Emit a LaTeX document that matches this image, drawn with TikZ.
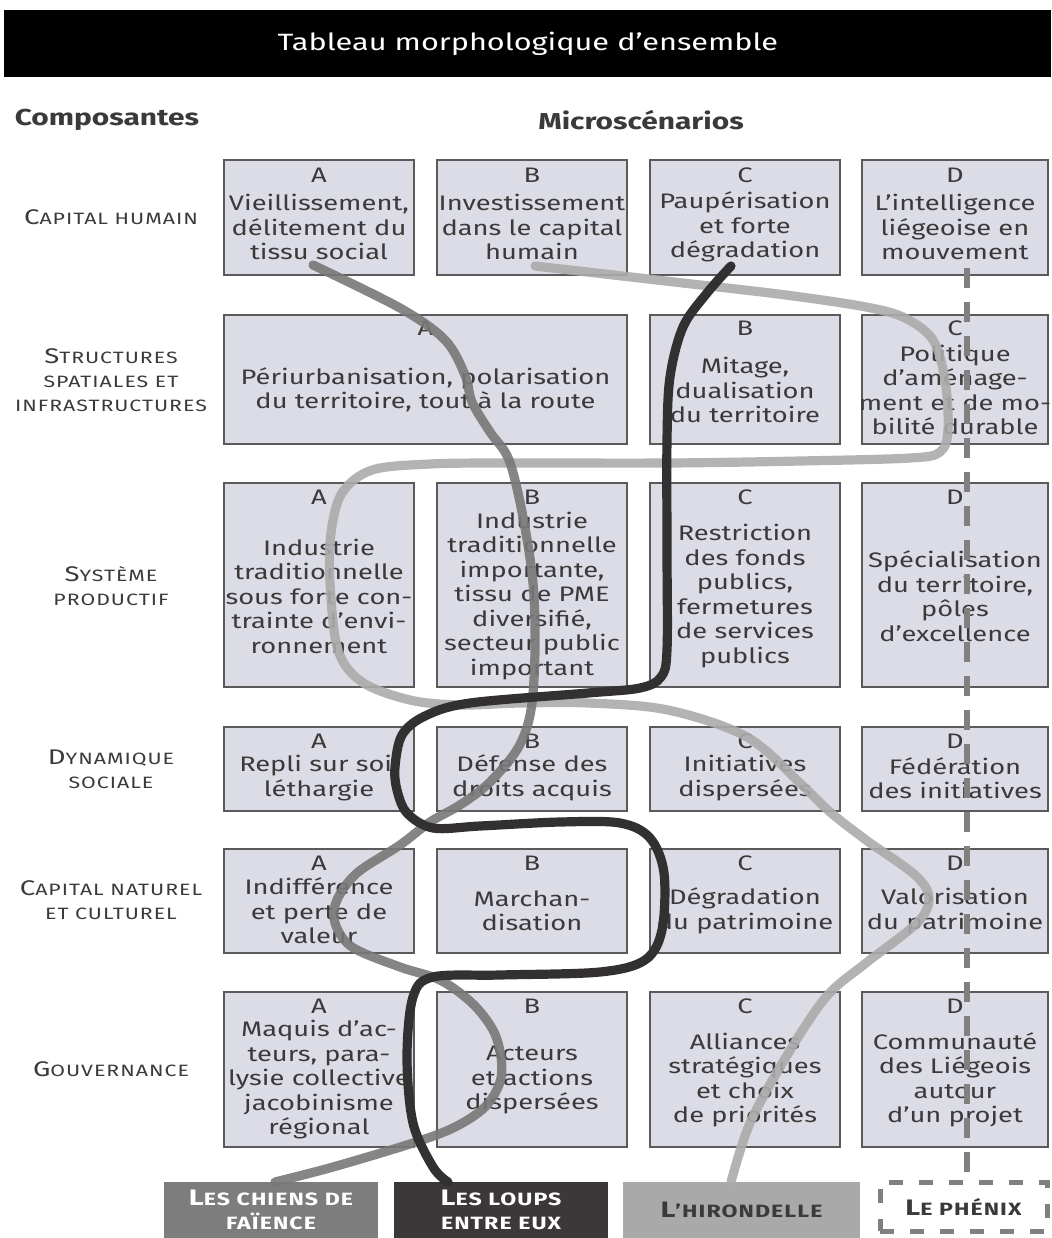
\documentclass[tikz,border=0pt]{standalone}
\usepackage{fontspec}
\setmainfont{Fira Sans}[FakeStretch=1.3]
\usetikzlibrary{calc}
\definecolor{boxfill}{HTML}{DCDCE6}
\definecolor{boxline}{HTML}{5A5A5A}
\definecolor{txt}{HTML}{3A3A3A}
\definecolor{chienscol}{HTML}{787878}
\definecolor{loupscol}{HTML}{333031}
\definecolor{hirocol}{HTML}{ABABAB}
\definecolor{phenixcol}{HTML}{808080}
\definecolor{chiensleg}{HTML}{7D7D7D}
\definecolor{loupsleg}{HTML}{3C3738}
\definecolor{hiroleg}{HTML}{A9A9A9}
\newcommand\BG[1]{{\fontsize{10.6}{12.5}\selectfont #1}}
\newcommand\SM[1]{{\fontsize{8.2}{12.5}\selectfont\MakeUppercase{#1}}}
\newcommand\LBG[1]{{\fontsize{11.2}{12.5}\selectfont #1}}
\newcommand\LSM[1]{{\fontsize{8.9}{12.5}\selectfont\MakeUppercase{#1}}}
\tikzset{
  cellbox/.style={draw=boxline, fill=boxfill, line width=0.9pt, inner sep=0pt, outer sep=0pt},
  letsty/.style={font=\fontsize{10.5}{12.25}\selectfont, text=txt, inner sep=0pt},
  txtsty/.style={font=\fontsize{10.5}{12.25}\selectfont, text=txt, align=center, inner sep=0pt},
  rowlab/.style={align=center, text=txt, inner sep=0pt, font=\addfontfeature{LetterSpace=6}},
  headsty/.style={font=\bfseries\fontsize{11.5}{14}\selectfont, text=txt, inner sep=0pt},
  legbox/.style={anchor=north west, inner sep=0pt, outer sep=0pt, align=center, font=\bfseries\addfontfeature{LetterSpace=6}},
  chiensline/.style={draw=chienscol, line width=4.6pt, line cap=round, line join=round, opacity=0.9},
  loupsline/.style={draw=loupscol, line width=4.6pt, line cap=round, line join=round},
  hiroline/.style={draw=hirocol, line width=4.6pt, line cap=round, line join=round, opacity=0.9},
  phenixline/.style={draw=phenixcol, line width=3pt, dash pattern=on 10pt off 7pt},
}
\newcommand\cell[9]{%
  \node[cellbox, anchor=north west, minimum width={(#4-#2)*0.5pt}, minimum height={(#5-#3)*0.5pt}] (#1) at (#2,#3) {};
  \node[letsty] (#1l) at ({(#2+#4)/2},#7) {#6};
  \node[txtsty] (#1t) at ({(#2+#4)/2},#8) {#9};
}
\begin{document}
\begin{tikzpicture}[x=0.5pt,y=-0.5pt]
\useasboundingbox (0,0) rectangle (1051,1238);
% title band
\node[fill=black, anchor=north west, minimum width=1047*0.5pt, minimum height=67*0.5pt, inner sep=0pt,
      text=white, font=\fontsize{11.8}{14}\selectfont] (title) at (4,10) {Tableau morphologique d’ensemble};
\node[headsty] (compo) at (107,120) {Composantes};
\node[headsty] (micro) at (641,120) {Microscénarios};
% row labels
\node[rowlab] (l1) at (111,217) {\BG{C}\SM{apital humain}};
\node[rowlab] (l2) at (111,380) {\BG{S}\SM{tructures}\\\SM{spatiales et}\\\SM{infrastructures}};
\node[rowlab] (l3) at (111,586) {\BG{S}\SM{ystème}\\\SM{productif}};
\node[rowlab] (l4) at (111,769) {\BG{D}\SM{ynamique}\\\SM{sociale}};
\node[rowlab] (l5) at (111,900) {\BG{C}\SM{apital naturel}\\\SM{et culturel}};
\node[rowlab] (l6) at (111,1069) {\BG{G}\SM{ouvernance}};
% row 1
\cell{a1}{224}{160}{414}{275}{A}{175}{227}{Vieillissement,\\délitement du\\tissu social}
\cell{b1}{437}{160}{627}{275}{B}{175}{227}{Investissement\\dans le capital\\humain}
\cell{c1}{650}{160}{840}{275}{C}{175}{227}{Paupérisation\\et forte\\dégradation}
\cell{d1}{862}{160}{1048}{275}{D}{175}{227}{L’intelligence\\liégeoise en\\mouvement}
% row 2
\cell{a2}{224}{315}{627}{444}{A}{328}{390}{Périurbanisation, polarisation\\du territoire, tout à la route}
\cell{b2}{650}{315}{840}{444}{B}{328}{390}{Mitage,\\dualisation\\du territoire}
\cell{c2}{862}{315}{1048}{444}{C}{328}{390}{Politique\\d’aménage-\\ment et de mo-\\bilité durable}
% row 3
\cell{a3}{224}{483}{414}{687}{A}{497}{596}{Industrie\\traditionnelle\\sous forte con-\\trainte d’envi-\\ronnement}
\cell{b3}{437}{483}{627}{687}{B}{497}{596}{Industrie\\traditionnelle\\importante,\\tissu de PME\\diversifié,\\secteur public\\important}
\cell{c3}{650}{483}{840}{687}{C}{497}{596}{Restriction\\des fonds\\publics,\\fermetures\\de services\\publics}
\cell{d3}{862}{483}{1048}{687}{D}{497}{596}{Spécialisation\\du territoire,\\pôles\\d’excellence}
% row 4
\cell{a4}{224}{727}{414}{811}{A}{741}{778}{Repli sur soi,\\léthargie}
\cell{b4}{437}{727}{627}{811}{B}{741}{778}{Défense des\\droits acquis}
\cell{c4}{650}{727}{840}{811}{C}{741}{778}{Initiatives\\dispersées}
\cell{d4}{862}{727}{1048}{811}{D}{741}{778}{Fédération\\des initiatives}
% row 5
\cell{a5}{224}{849}{414}{953}{A}{863}{911}{Indifférence\\et perte de\\valeur}
\cell{b5}{437}{849}{627}{953}{B}{863}{911}{Marchan-\\disation}
\cell{c5}{650}{849}{840}{953}{C}{863}{911}{Dégradation\\du patrimoine}
\cell{d5}{862}{849}{1048}{953}{D}{863}{911}{Valorisation\\du patrimoine}
% row 6
\cell{a6}{224}{992}{414}{1147}{A}{1006}{1080}{Maquis d’ac-\\teurs, para-\\lysie collective\\jacobinisme\\régional}
\cell{b6}{437}{992}{627}{1147}{B}{1006}{1080}{Acteurs\\et actions\\dispersées}
\cell{c6}{650}{992}{840}{1147}{C}{1006}{1080}{Alliances\\stratégiques\\et choix\\de priorités}
\cell{d6}{862}{992}{1048}{1147}{D}{1006}{1080}{Communauté\\des Liégeois\\autour\\d’un projet}
% legend
\node[legbox, fill=chiensleg, text=white, minimum width=214*0.5pt, minimum height=56*0.5pt] (chiens) at (164,1182) {\LBG{L}\LSM{es chiens de}\\\LSM{faïence}};
\node[legbox, fill=loupsleg, text=white, minimum width=214*0.5pt, minimum height=56*0.5pt] (loups) at (394,1182) {\LBG{L}\LSM{es loups}\\\LSM{entre eux}};
\node[legbox, fill=hiroleg, text=txt, minimum width=237*0.5pt, minimum height=56*0.5pt] (hiro) at (623,1182) {\LBG{L}\LSM{’hirondelle}};
\node[legbox, draw=phenixcol, line width=2.5pt, dash pattern=on 7pt off 8pt, text=txt, minimum width=167*0.5pt, minimum height=49*0.5pt] (phenix) at (880,1182) {\LBG{L}\LSM{e phénix}};
% coordinates
\coordinate (chS) at (313,265);
\coordinate (chE) at (275,1182);
\coordinate (loS) at (731,266);
\coordinate (loE) at (448,1182);
\coordinate (hiS) at (535,266);
\coordinate (hiE) at (731,1182);
\coordinate (phS) at (967,268);
\coordinate (phE) at (967,1182);
% curves
\draw[hiroline] plot[smooth, tension=0.55] coordinates {(hiS) (683,283) (786,295) (866,307) (905,318) (933,340) (945,380) (948,430) (940,452) (910,458) (800,461) (668,463) (500,463) (430,464) (372,470) (342,493) (331,533) (330,583) (338,650) (362,682) (410,700) (460,705) (520,703) (588,703) (668,710) (747,737) (802,785) (830,812) (866,840) (915,875) (929,898) (917,923) (866,963) (826,997) (786,1057) (750,1123) (hiE)};
\draw[chiensline] plot[smooth, tension=0.55] coordinates {(chS) (400,308) (445,340) (465,375) (472,402) (490,432) (509,460) (523,517) (533,583) (535,650) (531,710) (518,748) (489,783) (460,805) (430,822) (400,845) (357,873) (337,900) (335,923) (352,947) (400,967) (440,980) (472,1003) (493,1030) (501,1057) (500,1082) (485,1107) (455,1127) (413,1143) (333,1167) (chE)};
\draw[loupsline] plot[smooth, tension=0.55] coordinates {(loS) (707,293) (683,327) (670,377) (667,440) (667,550) (667,650) (661,677) (640,688) (588,693) (470,703) (425,716) (402,735) (395,767) (397,790) (407,813) (433,828) (480,826) (560,822) (620,823) (650,838) (664,873) (662,930) (645,960) (600,972) (500,975) (433,977) (413,997) (407,1057) (413,1123) (433,1167) (loE)};
\draw[phenixline] (phS) -- (phE);
\end{tikzpicture}
\end{document}
